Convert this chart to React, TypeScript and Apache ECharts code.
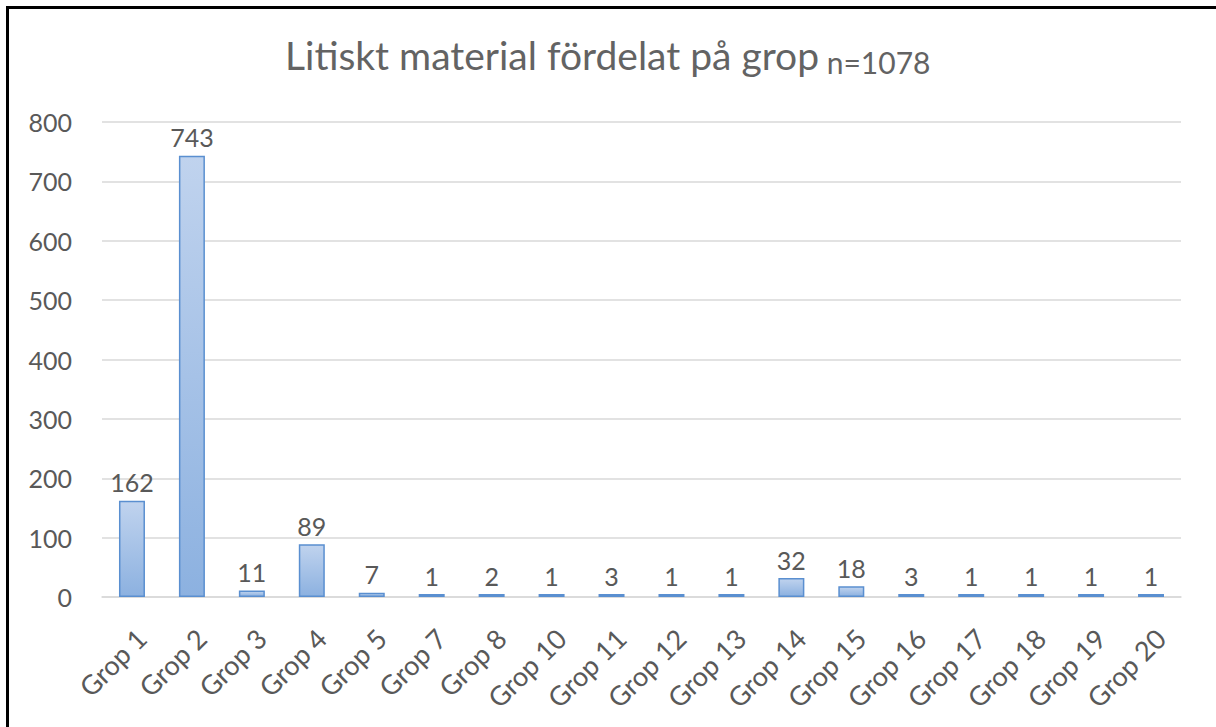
import React, { useEffect, useRef } from "react";
import * as echarts from "echarts";

const categories = [
  "Grop 1", "Grop 2", "Grop 3", "Grop 4", "Grop 5", "Grop 7", "Grop 8", "Grop 10", "Grop 11",
  "Grop 12", "Grop 13", "Grop 14", "Grop 15", "Grop 16", "Grop 17", "Grop 18", "Grop 19", "Grop 20",
];
const values = [162, 743, 11, 89, 7, 1, 2, 1, 3, 1, 1, 32, 18, 3, 1, 1, 1, 1];
const titleMain = "Litiskt material fördelat på grop";
const titleSub = "n=1078";
const yMin = 0;
const yMax = 800;
const yStep = 100;

const FONT = "Lato, 'Open Sans', sans-serif";
const GREY = "#595959";

export default function App() {
  const ref = useRef<HTMLDivElement>(null);
  useEffect(() => {
    if (!ref.current) return;
    const chart = echarts.init(ref.current, null, { renderer: "svg" });
    chart.setOption({
      animation: false,
      backgroundColor: "#ffffff",
      textStyle: { fontFamily: FONT },
      title: {
        text: `{a|${titleMain}}{s| }{b|${titleSub}}`,
        left: 285,
        top: 33,
        padding: 0,
        textStyle: {
          fontWeight: "normal",
          rich: {
            a: { fontFamily: FONT, fontSize: 39, fontWeight: "normal", color: "#636363", lineHeight: 44 },
            s: { fontFamily: FONT, fontSize: 30, fontWeight: "normal", color: "#636363", lineHeight: 44 },
            b: { fontFamily: FONT, fontSize: 30, fontWeight: "normal", color: "#636363", lineHeight: 42, verticalAlign: "bottom" },
          },
        },
      },
      grid: { left: 102, right: 35, top: 122, bottom: 130, containLabel: false },
      xAxis: {
        type: "category",
        data: categories,
        axisLine: { show: true, lineStyle: { color: "#d9d9d9", width: 1.5 } },
        axisTick: { show: false },
        axisLabel: {
          interval: 0,
          rotate: 45,
          margin: 27,
          verticalAlign: "top",
          fontFamily: FONT,
          fontSize: 27,
          color: GREY,
        },
      },
      yAxis: {
        type: "value",
        min: yMin,
        max: yMax,
        interval: yStep,
        axisLine: { show: false },
        axisTick: { show: false },
        splitLine: { lineStyle: { color: "#d9d9d9", width: 1.5 } },
        axisLabel: { margin: 30, fontFamily: FONT, fontSize: 25, color: GREY },
      },
      series: [
        {
          type: "bar",
          data: values,
          barWidth: 26,
          barMinHeight: 3,
          itemStyle: {
            color: new echarts.graphic.LinearGradient(0, 0, 0, 1, [
              { offset: 0, color: "#c0d3ee" },
              { offset: 1, color: "#8cb1e0" },
            ]),
            borderColor: "#5a8fd0",
            borderWidth: 1.5,
          },
          label: {
            show: true,
            position: "top",
            distance: 6,
            fontFamily: FONT,
            fontSize: 25,
            color: GREY,
          },
        },
      ],
    });
    return () => chart.dispose();
  }, []);
  return (
    <div style={{ position: "absolute", left: 0, top: 0, width: 1216, height: 727, background: "#fff" }}>
      <div ref={ref} style={{ position: "absolute", left: 0, top: 0, width: 1216, height: 727 }} />
      <div
        style={{
          position: "absolute",
          left: 6,
          top: 6,
          width: 1210,
          height: 721,
          borderLeft: "3px solid #000",
          borderTop: "3px solid #000",
          boxSizing: "border-box",
          pointerEvents: "none",
        }}
      />
    </div>
  );
}
